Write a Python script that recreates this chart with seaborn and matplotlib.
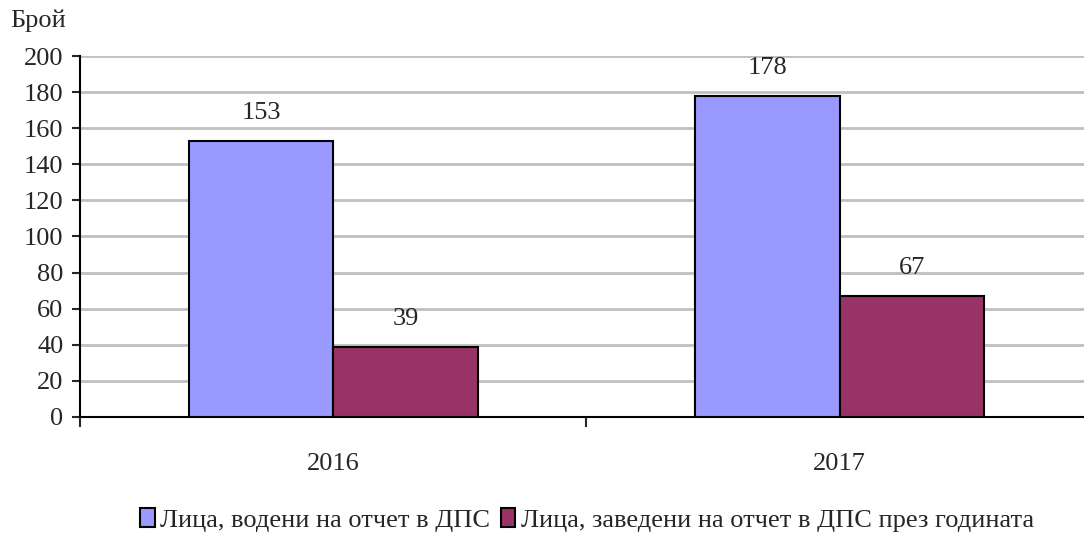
import pandas as pd
import numpy as np
import seaborn as sns
import matplotlib.pyplot as plt
from matplotlib.patches import Patch

years = ['2016', '2017']
series_names = ['Лица, водени на отчет в ДПС', 'Лица, заведени на отчет в ДПС през годината']
kept = [153, 178]
added = [39, 67]
colors = ['#9999FF', '#993366']

data = pd.DataFrame({
    'Година': years * 2,
    'Серия': [series_names[0]] * 2 + [series_names[1]] * 2,
    'Брой': kept + added,
})

sns.set_style('white')
plt.rcParams['font.family'] = ['Liberation Serif', 'DejaVu Serif']
fs = 19

fig = plt.figure(figsize=(10.84, 5.35), dpi=100)
ax = fig.add_axes([0.0738, 0.2206, 0.9345, 0.6747])

sns.barplot(data=data, x='Година', y='Брой', hue='Серия', palette=colors, saturation=1,
            width=0.57, edgecolor='black', linewidth=1.5, ax=ax, legend=False, zorder=3)

for cont in ax.containers:
    ax.bar_label(cont, fontsize=fs, padding=12)

ax.set_ylim(0, 200)
ax.set_xlim(-0.5, 1.5)
ax.set_yticks(np.arange(0, 201, 20))
ax.yaxis.grid(True, color='#C0C0C0', linewidth=2, zorder=0)
ax.set_xlabel('')
ax.set_ylabel('')
for s in ['top', 'right']:
    ax.spines[s].set_visible(False)
for s in ['left', 'bottom']:
    ax.spines[s].set_linewidth(1.5)
    ax.spines[s].set_color('black')

ax.tick_params(axis='y', which='major', direction='out', length=6, width=1.5, labelsize=fs, pad=6, left=True)
ax.tick_params(axis='x', which='major', length=0, labelsize=fs, pad=26)
ax.set_xticks([-0.5, 0.5, 1.5], minor=True)
ax.tick_params(axis='x', which='minor', direction='out', length=7, width=1.5, bottom=True)

fig.text(0.009, 0.962, 'Брой', fontsize=fs, ha='left', va='center')

handles = [Patch(facecolor=c, edgecolor='black', linewidth=1.5) for c in colors]
fig.legend(handles, series_names, loc='center', bbox_to_anchor=(587 / 1084, 1 - 520 / 535),
           ncol=2, frameon=False, fontsize=fs, handlelength=0.55, handleheight=0.75,
           handletextpad=0.2, columnspacing=0.4)

fig.savefig('out.png', dpi=100)
